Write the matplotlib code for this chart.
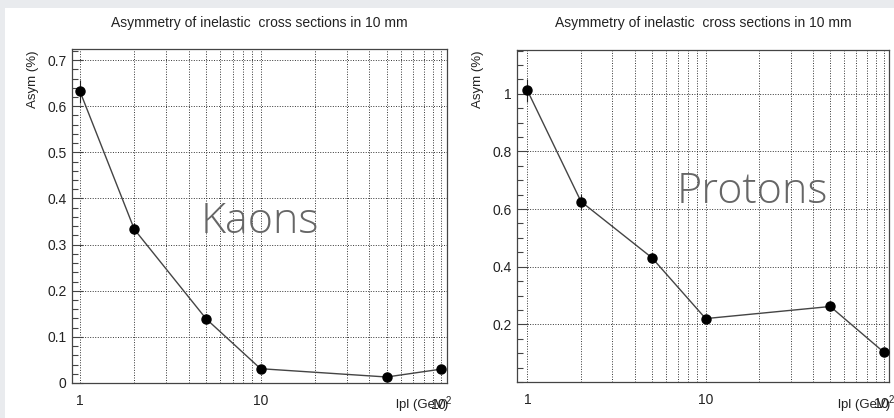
import matplotlib
matplotlib.use('Agg')
import matplotlib.pyplot as plt
from matplotlib.patches import Rectangle
from matplotlib.ticker import FixedLocator, MultipleLocator, NullFormatter

# data
momentum = [1, 2, 5, 10, 50, 100]
kaon_asym = [0.632, 0.333, 0.139, 0.031, 0.013, 0.030]
kaon_err = [0.025, 0.013, 0.006, 0.004, 0.003, 0.003]
proton_asym = [1.012, 0.626, 0.431, 0.220, 0.262, 0.103]
proton_err = [0.04, 0.028, 0.018, 0.008, 0.008, 0.006]

title = 'Asymmetry of inelastic  cross sections in 10 mm'
ylabel = 'Asym (%)'
xlabel = 'lpl (GeV)'
xtick_vals = [1, 10, 100]
xtick_labels = ['1', '10', '$10^2$']

plt.rcParams['font.family'] = ['Liberation Sans', 'DejaVu Sans']
plt.rcParams['mathtext.fontset'] = 'custom'
plt.rcParams['mathtext.rm'] = 'Liberation Sans'

W, H = 894, 418
fig = plt.figure(figsize=(W / 100, H / 100), dpi=100)
fig.patch.set_facecolor('#e9ebee')
# white slide area
fig.patches.append(Rectangle((5 / W, 0), 1 - 5 / W, 1 - 8 / H, transform=fig.transFigure,
                             facecolor='white', edgecolor='none', zorder=-5))


def make_panel(box, y, yerr, xlim, ylim, yticks, yminor, big_text, text_xy):
    left, top, right, bottom = box
    ax = fig.add_axes([left / W, 1 - bottom / H, (right - left) / W, (bottom - top) / H])
    ax.set_facecolor('none')
    ax.set_xscale('log')
    ax.set_xlim(*xlim)
    ax.set_ylim(*ylim)

    minor_x = [v for v in range(2, 10)] + [v * 10 for v in range(2, 10)]
    ax.set_xticks(xtick_vals)
    ax.set_xticklabels(xtick_labels)
    ax.xaxis.set_minor_locator(FixedLocator(minor_x))
    ax.xaxis.set_minor_formatter(NullFormatter())
    ax.set_yticks(yticks)
    ax.set_yticklabels([f'{v:g}' for v in yticks])
    ax.yaxis.set_minor_locator(MultipleLocator(yminor))

    ax.tick_params(which='major', direction='in', length=8, width=0.8, color='#444',
                   labelsize=10, labelcolor='#222')
    ax.tick_params(which='minor', direction='in', length=4, width=0.8, color='#444')
    ax.tick_params(axis='x', which='both', pad=8, length=0)
    ax.tick_params(axis='y', pad=4)

    grid_style = dict(color='#333', linestyle=(0, (1, 1.6)), linewidth=0.7)
    ax.grid(True, axis='x', which='both', **grid_style)
    ax.grid(True, axis='y', which='major', **grid_style)
    ax.set_axisbelow(True)
    for s in ax.spines.values():
        s.set_color('#444')
        s.set_linewidth(0.9)

    ax.errorbar(momentum, y, yerr=yerr, fmt='o-', color='#444', ecolor='#222',
                elinewidth=0.8, capsize=0, markersize=6.5, markerfacecolor='black',
                markeredgecolor='black', linewidth=1, zorder=3)

    cx = (left + right) / 2
    fig.text(cx / W, 1 - 23 / H, title, ha='center', va='center', fontsize=10, color='#222')
    fig.text((left - 39) / W, 1 - (top + 1) / H, ylabel, rotation=90, ha='center', va='top',
             fontsize=9.5, color='#222')
    fig.text((right + 1) / W, 1 - 405 / H, xlabel, ha='right', va='center',
             fontsize=9.5, color='#222')
    fig.text(text_xy[0] / W, 1 - text_xy[1] / H, big_text, ha='center', va='baseline',
             fontsize=31, fontfamily='Open Sans', fontweight='light', color='#666666')
    return ax


make_panel((72, 49, 447, 383), kaon_asym, kaon_err, (0.903, 107.9), (0, 0.724),
           [0, 0.1, 0.2, 0.3, 0.4, 0.5, 0.6, 0.7], 0.02, 'Kaons', (260, 233))
make_panel((517, 50, 889, 382), proton_asym, proton_err, (0.875, 106.7), (0, 1.152),
           [0.2, 0.4, 0.6, 0.8, 1.0], 0.05, 'Protons', (752, 203))

fig.savefig('out.png', dpi=100, facecolor=fig.get_facecolor())
